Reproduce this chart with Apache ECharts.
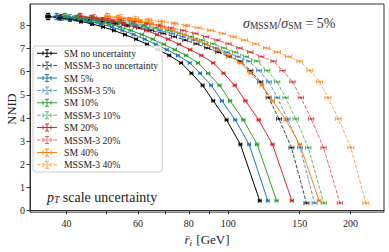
<!DOCTYPE html>
<html><head><meta charset="utf-8">
<script src="https://cdn.jsdelivr.net/npm/echarts@6/dist/echarts.min.js"></script>
<style>html,body{margin:0;padding:0;background:#fff}#c{width:389px;height:252px}</style>
</head><body><div id="c"></div>
<script>
// ---- data ----
const smLevels   = [8.38, 8.33, 8.26, 8.17, 8.06, 7.93, 7.78, 7.60, 7.40, 7.18, 6.95, 6.70, 6.38, 5.93, 5.41, 4.74, 3.92, 2.86, 0.43];
const mssmLevels = [8.38, 8.34, 8.29, 8.23, 8.16, 8.08, 7.99, 7.89, 7.78, 7.65, 7.51, 7.36, 7.20, 7.02, 6.84, 6.65, 6.45, 6.05, 5.56, 4.88, 3.96, 2.72, 0.33];

const smNoUnc = [36.0, 38.3, 40.8, 43.4, 46.2, 49.2, 52.3, 55.7, 59.3, 63.1, 67.2, 71.6, 76.6, 81.2, 86.5, 91.9, 99.1, 107.2, 119.6];
const sm5     = [37.8, 40.2, 42.8, 45.6, 48.5, 51.7, 54.9, 58.5, 62.3, 66.3, 70.6, 75.2, 80.4, 85.3, 90.8, 96.5, 104.1, 112.6, 125.2];
const sm10    = [39.6, 42.1, 44.9, 47.7, 50.8, 54.1, 57.5, 61.3, 65.2, 69.4, 73.9, 78.8, 84.3, 89.3, 95.2, 101.1, 109.0, 117.9, 131.6];
const sm20    = [43.2, 46.0, 49.0, 52.1, 55.4, 59.0, 62.8, 66.8, 71.2, 75.7, 80.6, 85.9, 91.9, 97.4, 103.8, 110.3, 118.9, 128.6, 143.5];
const sm40    = [50.4, 53.6, 57.1, 60.8, 64.7, 68.9, 73.2, 78.0, 83.0, 88.3, 94.1, 100.2, 107.2, 113.7, 121.1, 128.7, 138.7, 150.1, 167.5];

const mssmNoUnc = [36.0, 38.9, 42.2, 45.4, 48.9, 52.7, 56.4, 60.3, 64.6, 69.2, 73.6, 78.4, 83.5, 88.8, 94.5, 100.6, 107.2, 113.4, 120.0, 125.8, 133.4, 143.2, 155.9];
const mssm5     = [37.8, 40.8, 44.3, 47.7, 51.3, 55.3, 59.2, 63.3, 67.8, 72.7, 77.3, 82.3, 87.7, 93.2, 99.2, 105.6, 112.6, 119.1, 126.0, 132.1, 140.1, 150.4, 163.2];
const mssm10    = [39.6, 42.8, 46.4, 49.9, 53.8, 58.0, 62.0, 66.3, 71.1, 76.1, 81.0, 86.2, 91.9, 97.7, 104.0, 110.7, 117.9, 124.7, 132.0, 138.4, 146.7, 157.5, 172.0];
const mssm20    = [43.2, 46.7, 50.6, 54.5, 58.7, 63.2, 67.7, 72.4, 77.5, 83.0, 88.3, 94.1, 100.2, 106.6, 113.4, 120.7, 129.4, 136.1, 144.0, 151.0, 160.1, 171.8, 188.5];
const mssm40    = [50.4, 54.5, 59.1, 63.6, 68.5, 73.8, 79.0, 84.4, 90.4, 96.9, 103.0, 109.8, 116.9, 124.3, 132.3, 140.8, 150.1, 158.8, 168.0, 176.1, 186.8, 200.5, 218.3];

// error bar half-sizes (x: percent of value per series, y: NNID units per point)
const smXErrPct   = [0.8, 0.8, 0.9, 0.9, 1.0];
const mssmXErrPct = [1.4, 1.4, 1.5, 1.5, 1.7];
const smYErr   = [0.13, 0.10, 0.08, 0.06, 0.05, 0.04, 0.03, 0.03, 0.02, 0.02, 0.02, 0.02, 0.02, 0.01, 0.01, 0.01, 0.01, 0.01, 0.01];
const mssmYErr = [0.14, 0.12, 0.10, 0.08, 0.07, 0.06, 0.05, 0.04, 0.04, 0.03, 0.03, 0.03, 0.02, 0.02, 0.02, 0.02, 0.02, 0.01, 0.01, 0.01, 0.01, 0.01, 0.01];

const smNames   = ['SM no uncertainty', 'SM 5%', 'SM 10%', 'SM 20%', 'SM 40%'];
const mssmNames = ['MSSM-3 no uncertainty', 'MSSM-3 5%', 'MSSM-3 10%', 'MSSM-3 20%', 'MSSM-3 40%'];
const xTickValues  = [40, 50, 60, 70, 80, 90, 100, 150, 200];
const xLabelValues = [40, 60, 80, 100, 150, 200];
const yTickValues  = [0, 1, 2, 3, 4, 5, 6, 7, 8];

// ---- styling ----
const colors = ['#000000', '#1f77b4', '#2ca02c', '#d62728', '#ff7f0e'];
const SERIF = "'Liberation Serif', 'DejaVu Serif', serif";
const smX = [smNoUnc, sm5, sm10, sm20, sm40];
const mssmX = [mssmNoUnc, mssm5, mssm10, mssm20, mssm40];

function makeRender(color, opacity) {
  return function (params, api) {
    const x = api.value(0), y = api.value(1), xe = api.value(2), ye = api.value(3);
    const c = api.coord([x, y]);
    const l = api.coord([x - xe, y]), r = api.coord([x + xe, y]);
    const st = { stroke: color, lineWidth: 1, opacity: opacity };
    const cap = 2;
    const ch = [
      { type: 'line', shape: { x1: l[0], y1: c[1], x2: r[0], y2: c[1] }, style: st },
      { type: 'line', shape: { x1: l[0], y1: c[1] - cap, x2: l[0], y2: c[1] + cap }, style: st },
      { type: 'line', shape: { x1: r[0], y1: c[1] - cap, x2: r[0], y2: c[1] + cap }, style: st }
    ];
    if (ye > 0) {
      const t = api.coord([x, y + ye]), b = api.coord([x, y - ye]);
      if (b[1] - t[1] > 2) {
        ch.push({ type: 'line', shape: { x1: c[0], y1: t[1], x2: c[0], y2: b[1] }, style: st });
        ch.push({ type: 'line', shape: { x1: c[0] - cap, y1: t[1], x2: c[0] + cap, y2: t[1] }, style: st });
        ch.push({ type: 'line', shape: { x1: c[0] - cap, y1: b[1], x2: c[0] + cap, y2: b[1] }, style: st });
      }
    }
    return { type: 'group', children: ch };
  };
}

const series = [];
function addSeries(name, xs, levels, yerr, pct, color, dashed) {
  const op = dashed ? 0.72 : 1;
  series.push({
    type: 'custom', name: name, coordinateSystem: 'cartesian2d',
    itemStyle: { color: color, opacity: op },
    renderItem: makeRender(color, op),
    encode: { x: 0, y: 1 },
    data: xs.map((v, i) => [v, levels[i], v * pct / 100, yerr[i]]),
    silent: true, animation: false, z: 2
  });
  series.push({
    type: 'line', name: name,
    data: xs.map((v, i) => [v, levels[i]]),
    symbol: 'circle', symbolSize: 2.5, showSymbol: true,
    itemStyle: { color: color, opacity: op },
    lineStyle: { color: color, width: 1, opacity: op, type: dashed ? [3.7, 1.6] : 'solid' },
    emphasis: { disabled: true }, silent: true, animation: false, z: 3
  });
}
for (let i = 0; i < 5; i++) {
  addSeries(smNames[i], smX[i], smLevels, smYErr, smXErrPct[i], colors[i], false);
  addSeries(mssmNames[i], mssmX[i], mssmLevels, mssmYErr, mssmXErrPct[i], colors[i], true);
}

const iconCommon = 'M95,0h10v80h-10z M80,0h40v10h-40z M80,70h40v10h-40z M55,20h10v40h-10z M135,20h10v40h-10z';
const iconSolid = 'path://M0,35h200v10h-200z ' + iconCommon;
const iconDash = 'path://M0,35h37v10h-37z M53,35h37v10h-37z M110,35h37v10h-37z M163,35h37v10h-37z ' + iconCommon;
const legendData = [];
for (let i = 0; i < 5; i++) {
  legendData.push({ name: smNames[i], icon: iconSolid });
  legendData.push({ name: mssmNames[i], icon: iconDash });
}

const chart = echarts.init(document.getElementById('c'), null, { renderer: 'svg' });
chart.setOption({
  animation: false,
  backgroundColor: '#ffffff',
  grid: { left: 30, right: 5, top: 4, bottom: 38, show: true, borderColor: '#333', borderWidth: 1, backgroundColor: 'transparent' },
  legend: {
    data: legendData, orient: 'vertical', left: 33, top: 46,
    padding: [1, 4, 1, 4], itemWidth: 20, itemHeight: 8, itemGap: 0,
    backgroundColor: 'rgba(255,255,255,0.85)', borderColor: '#cccccc', borderWidth: 1, borderRadius: 3,
    selectedMode: false,
    textStyle: { fontFamily: SERIF, fontSize: 9.7, color: '#222', lineHeight: 12.4, padding: [0, 0, 0, 2] }
  },
  xAxis: {
    type: 'log', logBase: 10, min: 32.5, max: 242,
    axisLine: { show: true, lineStyle: { color: '#333', width: 1 } },
    axisTick: { show: true, inside: false, length: 3.5, lineStyle: { color: '#333' }, customValues: xTickValues },
    minorTick: { show: false },
    axisLabel: { customValues: xLabelValues, margin: 6, fontFamily: SERIF, fontSize: 10, color: '#222', hideOverlap: false, formatter: v => String(Math.round(v)) },
    splitLine: { show: false },
    name: '{it|r\u0304}{sub|i} [GeV]', nameLocation: 'middle', nameGap: 17,
    nameTextStyle: {
      fontFamily: SERIF, fontSize: 13, color: '#222',
      rich: {
        it: { fontFamily: SERIF, fontStyle: 'italic', fontSize: 13, color: '#222' },
        sub: { fontFamily: SERIF, fontStyle: 'italic', fontSize: 9, color: '#222', padding: [6, 1, 0, 0] }
      }
    }
  },
  yAxis: {
    type: 'value', min: -0.06, max: 8.92,
    axisLine: { show: true, lineStyle: { color: '#333', width: 1 } },
    axisTick: { show: true, inside: false, length: 3.5, lineStyle: { color: '#333' }, customValues: yTickValues },
    axisLabel: { customValues: yTickValues, margin: 5, fontFamily: SERIF, fontSize: 10, color: '#222', hideOverlap: false, showMinLabel: true, showMaxLabel: true },
    splitLine: { show: false }
  },
  graphic: [
    {
      type: 'text', x: 12, y: 109, rotation: Math.PI / 2, silent: true,
      style: { text: 'NNID', fontFamily: SERIF, fontSize: 12.5, fill: '#222', align: 'center', verticalAlign: 'middle' }
    },
    {
      type: 'text', x: 243, y: 23, silent: true,
      style: {
        text: '{a|σ}{s|MSSM}{n|/}{a|σ}{s|SM}{n| = 5%}',
        verticalAlign: 'middle', align: 'left',
        rich: {
          a: { fontFamily: SERIF, fontStyle: 'italic', fontSize: 14, fill: '#333' },
          s: { fontFamily: SERIF, fontSize: 9.5, fill: '#333', padding: [6, 0, 0, 0] },
          n: { fontFamily: SERIF, fontSize: 14, fill: '#333' }
        }
      }
    },
    {
      type: 'text', x: 47, y: 197, silent: true,
      style: {
        text: '{a|p}{s|T}{n| scale uncertainty}',
        verticalAlign: 'middle', align: 'left',
        rich: {
          a: { fontFamily: SERIF, fontStyle: 'italic', fontSize: 14, fill: '#222' },
          s: { fontFamily: SERIF, fontStyle: 'italic', fontSize: 9.5, fill: '#222', padding: [6, 0, 0, 0] },
          n: { fontFamily: SERIF, fontSize: 14, fill: '#222' }
        }
      }
    }
  ],
  series: series
});
</script>
</body></html>
